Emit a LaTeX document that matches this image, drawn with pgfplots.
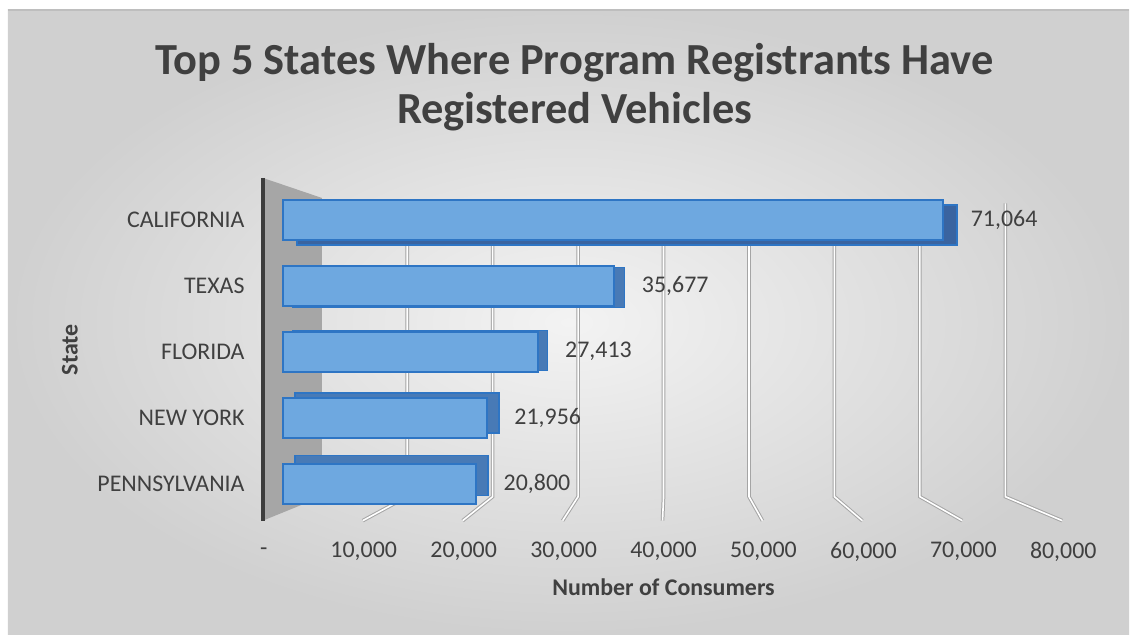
\documentclass[border=0pt]{standalone}
\usepackage{pgfplots}
\pgfplotsset{compat=1.18}
\usepackage{fontspec}
\setmainfont{Carlito}
\definecolor{txt}{RGB}{64,64,64}
\definecolor{barfront}{RGB}{110,168,224}
\definecolor{barline}{RGB}{46,117,196}
\definecolor{bardark}{RGB}{58,100,160}
\definecolor{bartop}{RGB}{72,122,182}
\definecolor{wall}{RGB}{166,166,166}
\definecolor{wallline}{RGB}{60,60,60}
\definecolor{gridc}{RGB}{165,165,165}
\definecolor{bgin}{RGB}{243,243,243}
\definecolor{bgout}{RGB}{208,208,208}
\definecolor{frameline}{RGB}{190,190,190}
\begin{document}
\begin{tikzpicture}
% page + chart background
\fill[white] (0,0) rectangle (565bp,-317.5bp);
\shade[inner color=bgin, outer color=bgout] (4bp,-5bp) rectangle (565bp,-317.5bp);
\draw[line width=0.8bp, frameline] (4bp,-5bp) -- (565bp,-5bp);
% title
\node[font=\fontsize{22.3}{26}\selectfont\bfseries, text=txt] at (287.5bp,-31.5bp) {Top 5 States Where Program Registrants Have};
\node[font=\fontsize{22.3}{26}\selectfont\bfseries, text=txt] at (287.5bp,-56bp) {Registered Vehicles};
\node[font=\fontsize{12}{14}\selectfont\bfseries, text=txt] at (332bp,-294bp) {Number of Consumers};
\node[font=\fontsize{12}{14}\selectfont\bfseries, text=txt, rotate=90] at (35bp,-175bp) {State};
\begin{axis}[
  at={(129.875bp,-275bp)}, anchor=south west,
  scale only axis, width=406.875bp, height=198bp,
  xmin=-2500, xmax=85000, ymin=-1, ymax=5,
  axis line style={draw=none}, tick style={draw=none},
  clip=false, scaled x ticks=false,
  ytick={0,1,2,3,4},
  yticklabels={PENNSYLVANIA,NEW YORK,FLORIDA,TEXAS,CALIFORNIA},
  xtick={-2043,8710,19462,30215,40968,51720,62473,73226,83978},
  xticklabels={-,{10,000},{20,000},{30,000},{40,000},{50,000},{60,000},{70,000},{80,000}},
  ticklabel style={font=\fontsize{12}{14}\selectfont, text=txt},
  yticklabel style={anchor=east, xshift=-4bp},
  xticklabel style={anchor=center, yshift=-1bp},
  bar width=20bp, bar shift=0pt,
]
% side wall
\addplot[draw=none, fill=wall, forget plot] coordinates {(-2151,4.636) (4194,4.333) (4194,-0.197) (-2151,-0.561)} -- cycle;
\addplot[line width=2bp, wallline, forget plot] coordinates {(-2151,4.636) (-2151,-0.561)};
% 3D gridlines: back wall vertical, then floor diagonal
\addplot[gridc, double=white, double distance=0.8bp, line width=0.5bp, forget plot] coordinates {(13387,4.30) (13387,-0.197) (8602,-0.561)};
\addplot[gridc, double=white, double distance=0.8bp, line width=0.5bp, forget plot] coordinates {(22581,4.30) (22581,-0.197) (19355,-0.561)};
\addplot[gridc, double=white, double distance=0.8bp, line width=0.5bp, forget plot] coordinates {(31774,4.29) (31774,-0.197) (30108,-0.561)};
\addplot[gridc, double=white, double distance=0.8bp, line width=0.5bp, forget plot] coordinates {(40968,4.29) (40968,-0.197) (40860,-0.561)};
\addplot[gridc, double=white, double distance=0.8bp, line width=0.5bp, forget plot] coordinates {(50161,4.28) (50161,-0.197) (51613,-0.561)};
\addplot[gridc, double=white, double distance=0.8bp, line width=0.5bp, forget plot] coordinates {(59355,4.27) (59355,-0.197) (62366,-0.561)};
\addplot[gridc, double=white, double distance=0.8bp, line width=0.5bp, forget plot] coordinates {(68548,4.26) (68548,-0.197) (73118,-0.561)};
\addplot[gridc, double=white, double distance=0.8bp, line width=0.5bp, forget plot] coordinates {(77742,4.25) (77742,-0.197) (83871,-0.561)};
% bar depth (back faces)
\addplot[xbar, fill=bardark, draw=barline, line width=0.8bp, xshift=7bp, yshift=-2.5bp] coordinates {(71064,4)};
\addplot[xbar, fill=bartop, draw=barline, line width=0.8bp, xshift=5bp, yshift=-0.9bp] coordinates {(35677,3)};
\addplot[xbar, fill=bartop, draw=barline, line width=0.8bp, xshift=5bp, yshift=0.7bp] coordinates {(27413,2)};
\addplot[xbar, fill=bartop, draw=barline, line width=0.8bp, xshift=6bp, yshift=2.35bp] coordinates {(21956,1)};
\addplot[xbar, fill=bartop, draw=barline, line width=0.8bp, xshift=6bp, yshift=4bp] coordinates {(20800,0)};
% front faces
\addplot[xbar, fill=barfront, draw=barline, line width=1bp,
  nodes near coords,
  nodes near coords style={font=\fontsize{12}{14}\selectfont, text=txt, anchor=west, xshift=10bp,
    /pgf/number format/.cd, 1000 sep={,}, assume math mode=true}]
  coordinates {(71064,4) (35677,3) (27413,2) (21956,1) (20800,0)};
\end{axis}
\end{tikzpicture}
\end{document}
